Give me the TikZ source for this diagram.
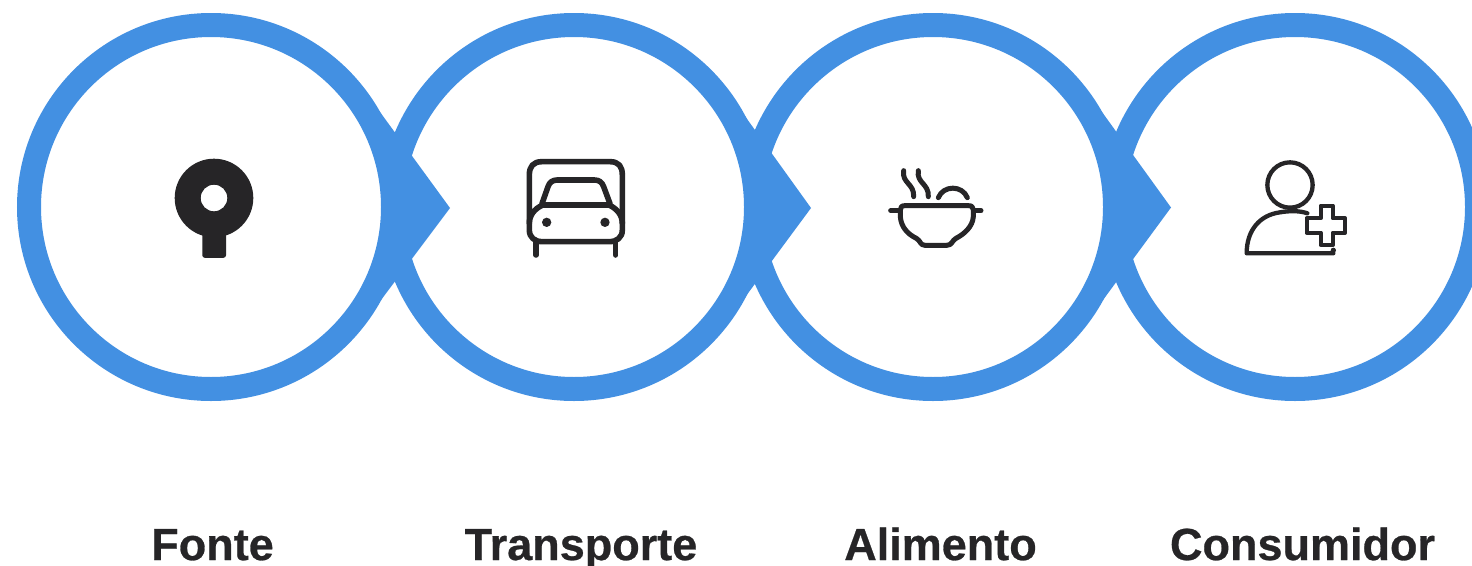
\documentclass[tikz,border=0pt]{standalone}
\usepackage{fontspec}
\setmainfont{Liberation Sans}[BoldFeatures={FakeBold=0.6}]
\definecolor{ringblue}{HTML}{4390E2}
\definecolor{iconink}{HTML}{262527}
\tikzset{
  ring/.style={circle,draw=ringblue,fill=white,line width=24pt,minimum size=364pt,inner sep=0pt,outer sep=0pt},
  pointer/.style={fill=ringblue,draw=none},
  caption/.style={font=\fontsize{45}{45}\selectfont\bfseries,text=iconink,anchor=base,inner sep=0pt},
  iconline/.style={draw=iconink,line width=#1,line cap=round,line join=round,fill=none},
  iconline/.default=5pt,
  iconscope/.style={x=0.3333pt,y=-0.3333pt}
}
\begin{document}
\begin{tikzpicture}[x=1pt,y=-1pt]
\useasboundingbox (0,0) rectangle (1472,565);
\clip (0,0) rectangle (1472,565);
% rings drawn right to left, each pointer lies over the next ring and under its own
\node[ring] (c4) at (1295,207) {};
\fill[pointer] (1102,112) -- (1171,207.5) -- (1103,300) -- cycle;
\node[ring] (c3) at (933,207) {};
\fill[pointer] (742,112) -- (811,208) -- (743,300) -- cycle;
\node[ring] (c2) at (574,207) {};
\fill[pointer] (380,112) -- (450,208) -- (381,300) -- cycle;
\node[ring] (c1) at (211,207) {};
% Fonte icon
\fill[iconink,rounded corners=2.5pt] (202.3,225) rectangle (226,257.8);
\fill[iconink,even odd rule] (214,198) circle[radius=39.3] (214,198) circle[radius=13.3];
% Transporte icon
\begin{scope}[shift={(510,145)},iconscope]
  \draw[iconline=5.6pt] (58,235) -- (58,90) .. controls (58,64) and (70,50) .. (96,50) -- (300,50) .. controls (326,50) and (337,64) .. (337,90) -- (337,235);
  \draw[iconline=5.6pt] (58,235) .. controls (58,212) and (72,192) .. (98,180) -- (297,180) .. controls (323,192) and (337,212) .. (337,235) -- (337,255) .. controls (337,278) and (320,290) .. (298,290) -- (97,290) .. controls (75,290) and (58,278) .. (58,255) -- cycle;
  \draw[iconline=5.6pt] (96,176) -- (114,125) .. controls (119,111) and (128,105) .. (142,105) -- (253,105) .. controls (267,105) and (276,111) .. (281,125) -- (300,176);
  \draw[iconline=5.6pt] (78,292) -- (78,330) (317,292) -- (317,330);
  \fill[iconink] (110,232) circle[radius=14] (285,232) circle[radius=14];
\end{scope}
% Alimento icon
\begin{scope}[shift={(875,155)},iconscope]
  \draw[iconline] (47,167) -- (72,167) (296,167) -- (318,167);
  \draw[iconline] (76,185) -- (76,165) .. controls (76,156) and (80,152) .. (90,152) -- (280,152) .. controls (290,152) and (295,156) .. (295,165) -- (295,185) .. controls (293,215) and (268,237) .. (243,250) .. controls (230,257) and (232,271) .. (215,271) -- (150,271) .. controls (135,271) and (137,257) .. (124,250) .. controls (97,237) and (78,215) .. (76,185);
  \draw[iconline] (86,47) .. controls (80,85) and (118,85) .. (116,125);
  \draw[iconline] (130,47) .. controls (124,85) and (162,85) .. (160,125);
  \draw[iconline] (190,128) .. controls (205,90) and (262,90) .. (277,128);
\end{scope}
% Consumidor icon
\begin{scope}[shift={(1230,150)},iconscope]
  \draw[iconline=4.3pt] (180,105) circle[radius=68];
  \draw[iconline=4.3pt] (232,190) .. controls (210,182) and (180,182) .. (150,187) .. controls (90,195) and (50,240) .. (50,310) -- (310,310);
  \draw[iconline=4.3pt] (272,167) -- (308,167) -- (308,205) -- (345,205) -- (345,248) -- (308,248) -- (308,285) -- (272,285) -- (272,248) -- (230,248) -- (230,205) -- (272,205) -- cycle;
  \fill[iconink] (310,301) circle[radius=8];
\end{scope}
% captions
\node[caption] (t1) at (212.5,560) {Fonte};
\node[caption] (t2) at (581,560) {Transporte};
\node[caption] (t3) at (940.5,560) {Alimento};
\node[caption] (t4) at (1302.5,560) {Consumidor};
\end{tikzpicture}
\end{document}
